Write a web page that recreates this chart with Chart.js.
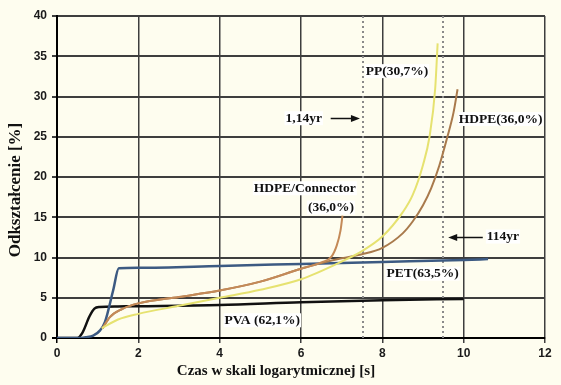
<!DOCTYPE html>
<html>
<head>
<meta charset="utf-8">
<script src="https://cdn.jsdelivr.net/npm/chart.js@4"></script>
<style>
  html, body { margin: 0; padding: 0; background: #fefdef; }
  canvas { display: block; }
</style>
</head>
<body>
<canvas id="chart" width="561" height="385"></canvas>
<script>
// dane (czas w skali log, odkształcenie w %)
const seriesNames = ["PVA", "PET", "PP", "HDPE", "HDPE/Connector"];

const pvaX = [0, 0.5, 0.62, 0.8, 0.92, 1.05, 1.5, 2, 4, 6, 8, 10];
const pvaY = [0, 0, 0.6, 2.7, 3.65, 3.85, 3.92, 3.95, 4.1, 4.45, 4.7, 4.85];

const petX = [0, 0.55, 0.7, 0.89, 1.06, 1.18, 1.38, 1.52, 2, 4, 6, 8, 10, 10.6];
const petY = [0, 0, 0.1, 0.3, 0.95, 2.0, 5.9, 8.65, 8.72, 8.95, 9.2, 9.45, 9.7, 9.8];

const ppX = [1.1, 1.5, 2, 3, 4, 5, 6, 7, 7.5, 8, 8.5, 8.75, 9, 9.16, 9.3, 9.36];
const ppY = [1.2, 2.3, 3.0, 4.0, 5.0, 6.0, 7.3, 9.5, 10.8, 12.6, 15.6, 17.8, 21.5, 25, 31, 36.6];

const hdpeX = [1.12, 1.3, 1.6, 2, 3, 4, 5, 6, 6.5, 7, 7.5, 8, 8.5, 8.75, 9, 9.2, 9.4, 9.6, 9.75, 9.85];
const hdpeY = [1.2, 2.6, 3.6, 4.3, 5.1, 5.9, 7.0, 8.6, 9.3, 9.9, 10.4, 11.2, 13.0, 14.5, 16.5, 18.6, 21.4, 25.0, 28.0, 30.9];

const connX = [1.12, 1.3, 1.6, 2, 3, 4, 5, 6, 6.5, 6.75, 6.88, 6.97, 7.02];
const connY = [1.2, 2.6, 3.6, 4.3, 5.1, 5.9, 7.0, 8.6, 9.4, 10.1, 11.5, 13.3, 15.2];

const xTicks = [0, 2, 4, 6, 8, 10, 12];
const yTicks = [0, 5, 10, 15, 20, 25, 30, 35, 40];

// linie kropkowane i opisy
const markerX = [7.52, 9.5];

function points(xs, ys) {
  return xs.map((x, i) => ({ x: x, y: ys[i] }));
}

function series(label, xs, ys, color, width) {
  return {
    label: label,
    data: points(xs, ys),
    showLine: true,
    borderColor: color,
    borderWidth: width,
    pointRadius: 0,
    fill: false,
    cubicInterpolationMode: "monotone",
  };
}

const notes = [
  { text: "PP(30,7%)", x: 7.59, y: 33.15 },
  { text: "HDPE(36,0%)", x: 9.88, y: 27.2 },
  { text: "HDPE/Connector", x: 4.84, y: 18.6 },
  { text: "(36,0%)", x: 6.17, y: 16.2 },
  { text: "PET(63,5%)", x: 8.1, y: 8.0 },
  { text: "PVA (62,1%)", x: 4.12, y: 2.2 },
  { text: "1,14yr", x: 5.62, y: 27.3 },
  { text: "114yr", x: 10.57, y: 12.6 },
];

const arrows = [
  { from: [6.73, 27.3], to: [7.45, 27.3] },
  { from: [10.47, 12.6], to: [9.62, 12.6] },
];

const overlay = {
  id: "overlay",
  beforeDraw(chart) {
    const ctx = chart.ctx;
    ctx.save();
    ctx.fillStyle = "#fefdef";
    ctx.fillRect(0, 0, chart.width, chart.height);
    ctx.restore();
  },
  beforeDatasetsDraw(chart) {
    const ctx = chart.ctx;
    const xs = chart.scales.x;
    const area = chart.chartArea;
    ctx.save();
    ctx.strokeStyle = "#8a8a8a";
    ctx.lineWidth = 2;
    ctx.setLineDash([2, 3]);
    markerX.forEach((v) => {
      const px = Math.round(xs.getPixelForValue(v));
      ctx.beginPath();
      ctx.moveTo(px, area.top);
      ctx.lineTo(px, area.bottom);
      ctx.stroke();
    });
    ctx.restore();
  },
  afterDatasetsDraw(chart) {
    const ctx = chart.ctx;
    const xs = chart.scales.x;
    const ys = chart.scales.y;
    ctx.save();
    ctx.font = "bold 13.5px 'Liberation Serif'";
    ctx.textBaseline = "middle";
    ctx.textAlign = "left";
    notes.forEach((n) => {
      const px = xs.getPixelForValue(n.x);
      const py = ys.getPixelForValue(n.y);
      const w = ctx.measureText(n.text).width;
      ctx.fillStyle = "#ffffff";
      ctx.fillRect(px - 1, py - 7, w + 2, 14);
      ctx.fillStyle = "#111111";
      ctx.fillText(n.text, px, py);
    });

    // strzałki
    ctx.strokeStyle = "#111111";
    ctx.fillStyle = "#111111";
    ctx.lineWidth = 1.5;
    arrows.forEach((a) => {
      const x1 = xs.getPixelForValue(a.from[0]);
      const x2 = xs.getPixelForValue(a.to[0]);
      const y = Math.round(ys.getPixelForValue(a.from[1])) + 0.5;
      const dir = x2 > x1 ? 1 : -1;
      ctx.beginPath();
      ctx.moveTo(x1, y);
      ctx.lineTo(x2 - dir * 6, y);
      ctx.stroke();
      ctx.beginPath();
      ctx.moveTo(x2, y);
      ctx.lineTo(x2 - dir * 9, y - 3.5);
      ctx.lineTo(x2 - dir * 9, y + 3.5);
      ctx.closePath();
      ctx.fill();
    });

    // tytuły osi
    ctx.font = "bold 15px 'Liberation Serif'";
    ctx.textAlign = "center";
    ctx.fillText("Czas w skali logarytmicznej [s]", 276, 371);
    ctx.translate(16, 190);
    ctx.rotate(-Math.PI / 2);
    ctx.font = "bold 17px 'Liberation Serif'";
    ctx.fillText("Odkształcenie [%]", 0, 0);
    ctx.restore();
  },
};

const gridColor = (c) => (c.tick && c.tick.value === 0 ? "#000000" : "#3e3e3e");

new Chart(document.getElementById("chart"), {
  type: "scatter",
  data: {
    datasets: [
      series(seriesNames[2], ppX, ppY, "#e6e270", 2),
      series(seriesNames[4], connX, connY, "#c48a58", 2),
      series(seriesNames[3], hdpeX, hdpeY, "#a97a4c", 2),
      series(seriesNames[1], petX, petY, "#3c5a82", 2.5),
      series(seriesNames[0], pvaX, pvaY, "#111111", 2.5),
    ],
  },
  options: {
    responsive: false,
    animation: false,
    devicePixelRatio: 1,
    layout: { padding: { top: 16, right: 16, left: 0, bottom: 0 } },
    plugins: {
      legend: { display: false },
      tooltip: { enabled: false },
    },
    scales: {
      x: {
        type: "linear",
        min: 0,
        max: 12,
        afterFit: (s) => { s.height = 47; },
        afterBuildTicks: (s) => { s.ticks = xTicks.map((v) => ({ value: v })); },
        grid: { color: gridColor, lineWidth: 1.5, tickLength: 5 },
        border: { color: "#000000", width: 2 },
        ticks: {
          padding: 3,
          color: "#1a1a1a",
          font: { family: "'Liberation Sans'", size: 12, weight: "bold" },
        },
      },
      y: {
        type: "linear",
        min: 0,
        max: 40,
        afterFit: (s) => { s.width = 57; },
        afterBuildTicks: (s) => { s.ticks = yTicks.map((v) => ({ value: v })); },
        grid: { color: gridColor, lineWidth: 2, tickLength: 5 },
        border: { color: "#000000", width: 2 },
        ticks: {
          padding: 5,
          color: "#1a1a1a",
          font: { family: "'Liberation Sans'", size: 12, weight: "bold" },
        },
      },
    },
  },
  plugins: [overlay],
});
</script>
</body>
</html>
